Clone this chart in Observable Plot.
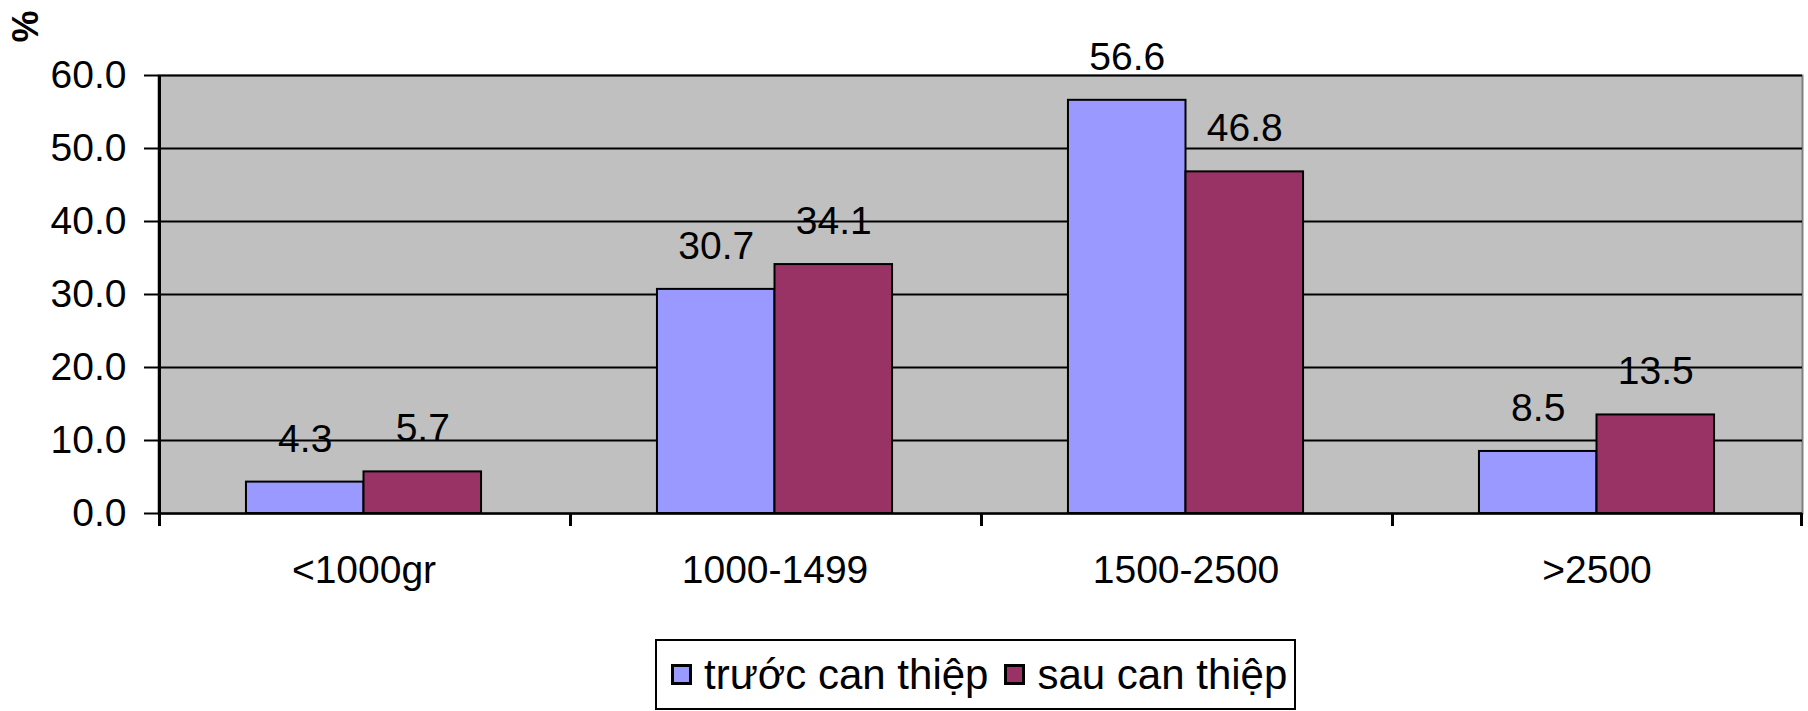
<!DOCTYPE html>
<html>
<head>
<meta charset="utf-8">
<script src="https://cdn.jsdelivr.net/npm/d3@7"></script>
<script src="https://cdn.jsdelivr.net/npm/@observablehq/plot@0.6"></script>
<style>
  body { margin: 0; background: #fff; font-family: "Liberation Sans", Arial, sans-serif; }
  #chart { position: relative; width: 1808px; height: 711px; overflow: hidden; }
  .legend { position: absolute; left: 655px; top: 639px; width: 641px; height: 71px;
    border: 2px solid #000; box-sizing: border-box; display: flex; align-items: center;
    padding-left: 14px; font-size: 42px; color: #000; white-space: nowrap; }
  .item { display: flex; align-items: center; }
  .item + .item { margin-left: 16px; }
  .sw { width: 15px; height: 15px; border: 3px solid #000; margin-right: 12px; }
</style>
</head>
<body>
<div id="chart"></div>
<script>
const categories = ["<1000gr", "1000-1499", "1500-2500", ">2500"];
const seriesNames = ["trước can thiệp", "sau can thiệp"];
const before = [4.3, 30.7, 56.6, 8.5];
const after = [5.7, 34.1, 46.8, 13.5];
const yTicks = [0, 10, 20, 30, 40, 50, 60];
const colors = ["#9999FF", "#993366"];
const yLabel = "%";

const rowsBefore = categories.map((c, i) => ({category: c, series: seriesNames[0], value: before[i]}));
const rowsAfter = categories.map((c, i) => ({category: c, series: seriesNames[1], value: after[i]}));

const W = 1808, H = 625, ML = 158, MR = 6, MT = 75, MB = H - 513;
const bw = (W - ML - MR) / categories.length;
const barW = bw * 0.286;
const font = "'Liberation Sans', Arial, sans-serif";

const chart = Plot.plot({
  width: W, height: H,
  marginLeft: ML, marginRight: MR, marginTop: MT, marginBottom: MB,
  style: {fontFamily: font, fontSize: "39px", color: "#000", background: "transparent", overflow: "visible"},
  x: {domain: categories, padding: 0, label: null},
  y: {domain: [0, 60], label: null},
  marks: [
    Plot.frame({fill: "#C0C0C0", stroke: "#808080", strokeWidth: 2}),
    Plot.gridY(yTicks, {stroke: "#000", strokeOpacity: 1, strokeWidth: 2}),
    Plot.barY(rowsBefore, {x: "category", y: "value", fill: colors[0], stroke: "#000", strokeWidth: 2,
      insetLeft: bw / 2 - barW, insetRight: bw / 2}),
    Plot.barY(rowsAfter, {x: "category", y: "value", fill: colors[1], stroke: "#000", strokeWidth: 2,
      insetLeft: bw / 2, insetRight: bw / 2 - barW}),
    Plot.text(rowsBefore, {x: "category", y: "value", text: d => d.value.toFixed(1), dx: -barW / 2, dy: -43,
      lineAnchor: "middle", fontSize: 39, fill: "#000"}),
    Plot.text(rowsAfter, {x: "category", y: "value", text: d => d.value.toFixed(1), dx: barW / 2, dy: -43,
      lineAnchor: "middle", fontSize: 39, fill: "#000"}),
    Plot.ruleX(categories.slice(0, 1), {dx: -bw / 2 + 1, stroke: "#000", strokeWidth: 3}),
    Plot.ruleY([0], {stroke: "#000", strokeWidth: 2}),
    Plot.ruleX(categories, {dx: -bw / 2 + 1, y1: 0, y2: 0, insetBottom: -13, stroke: "#000", strokeWidth: 3}),
    Plot.ruleX(categories.slice(-1), {dx: bw / 2 - 1, y1: 0, y2: 0, insetBottom: -13, stroke: "#000", strokeWidth: 3}),
    Plot.axisY({ticks: yTicks, tickFormat: d3.format(".1f"), tickSize: 14, tickPadding: 18, strokeWidth: 2, fontSize: 39, label: null}),
    Plot.axisX({tickSize: 0, tickPadding: 42, fontSize: 39, label: null}),
    Plot.text([yLabel], {frameAnchor: "top-left", textAnchor: "start", lineAnchor: "top", rotate: -90,
      dx: -146, dy: -33, fontSize: 36, fontWeight: "bold", fill: "#000"})
  ]
});
document.getElementById("chart").appendChild(chart);

const legend = document.createElement("div");
legend.className = "legend";
seriesNames.forEach((name, i) => {
  const item = document.createElement("div");
  item.className = "item";
  const sw = document.createElement("span");
  sw.className = "sw";
  sw.style.background = colors[i];
  const t = document.createElement("span");
  t.textContent = name;
  item.appendChild(sw);
  item.appendChild(t);
  legend.appendChild(item);
});
document.getElementById("chart").appendChild(legend);
</script>
</body>
</html>
